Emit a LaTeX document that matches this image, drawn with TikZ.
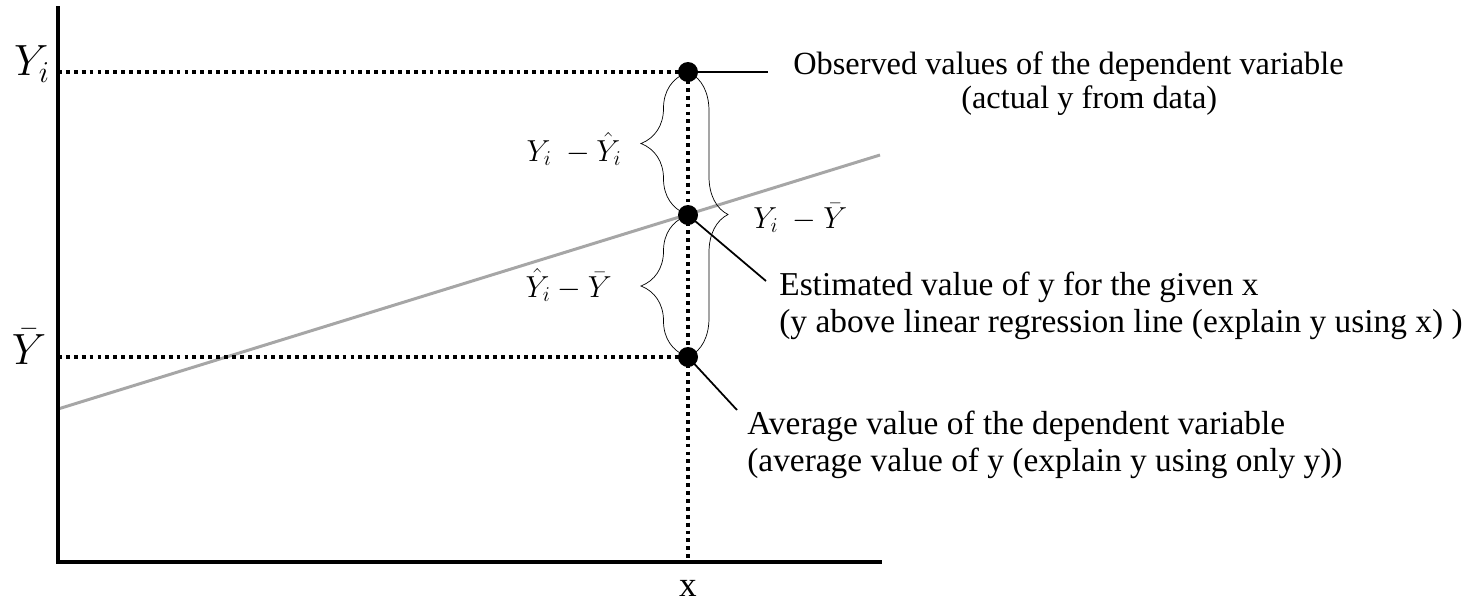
\documentclass[tikz,border=0pt]{standalone}
\usepackage{fontspec}
\setmainfont{Liberation Serif}
\usepackage{amsmath}
\usetikzlibrary{positioning,decorations.pathreplacing,calc}
\definecolor{fitcolor}{RGB}{166,166,166}

\begin{document}
\begin{tikzpicture}[x=0.02cm, y=-0.02cm,
  axis/.style   = {line width=2pt, line cap=rect},
  guide/.style  = {line width=2.2pt, dash pattern=on 2.2pt off 2.3pt},
  fit/.style    = {line width=1.7pt, color=fitcolor},
  pt/.style     = {circle, fill=black, inner sep=0pt, minimum size=0.4cm},
  lead/.style   = {line width=1pt},
  curly/.style  = {thin, decorate, decoration={brace, amplitude=#1}},
  note/.style   = {inner sep=0pt, align=left, font=\fontsize{19pt}{20.5pt}\selectfont},
  diff/.style   = {inner sep=0pt, font=\fontsize{17.5pt}{20pt}\selectfont},
  ax-lbl/.style = {inner sep=0pt, font=\fontsize{23pt}{26pt}\selectfont}
]
\useasboundingbox (0,0) rectangle (1478,603);

% axes and regression line
\coordinate (origin) at (58,562);
\coordinate (y-top)  at (58,8);
\coordinate (x-end)  at (880,562);
\coordinate (fit-a)  at (58,409);
\coordinate (fit-b)  at (880,155);
\draw[fit] (fit-a) -- (fit-b);
\draw[axis] (y-top) -- (origin) -- (x-end);

% the three points
\node[pt] (obs-dot) at (688,72)  {};
\node[pt] (est-dot) at (688,215) {};
\node[pt] (avg-dot) at (688,357) {};
\coordinate (x-foot) at (688,562);

\draw[guide] (58,72)  -- (obs-dot.center);
\draw[guide] (58,357) -- (avg-dot.center);
\draw[guide] (obs-dot.center) -- (x-foot);

% axis labels
\node[ax-lbl] (yi-lbl)   at (32,64)  {$Y_i$};
\node[ax-lbl] (ybar-lbl) at (29,347) {$\bar{Y}$};
\node[ax-lbl, font=\fontsize{20pt}{22pt}\selectfont] (x-lbl) at (688,588) {x};

% braces
\draw[curly=0.9cm]  (686,356) -- (686,216);
\draw[curly=0.9cm]  (686,214) -- (686,73);
\draw[curly=0.76cm] (690,73)  -- (690,356);
\node[diff, anchor=east] (d-res) at (622,149) {$Y_i\ -\hat{Y}_i$};
\node[diff, anchor=east] (d-reg) at (612,285) {$\hat{Y}_i-\bar{Y}$};
\node[diff, anchor=west] (d-tot) at (753,218) {$Y_i\ -\bar{Y}$};

% notes (base = baseline of the last line)
\node[note, anchor=base west, font=\fontsize{18.4pt}{19.3pt}\selectfont] (obs-note) at (793,108)
  {Observed values of the dependent variable\\\hspace*{95.6pt}(actual y from data)};
\node[note, anchor=base west] (est-note) at (779,332)
  {Estimated value of y for the given x\\(y above linear regression line (explain y using x) )};
\node[note, anchor=base west] (avg-note) at (747,471)
  {Average value of the dependent variable\\(average value of y (explain y using only y))};

\coordinate (obs-end) at (768,72);
\coordinate (est-end) at (766,281);
\coordinate (avg-end) at (737,410);
\foreach \dot/\tip in {obs-dot/obs-end, est-dot/est-end, avg-dot/avg-end}{
  \draw[lead] (\dot.center) -- (\tip);
}
\end{tikzpicture}
\end{document}
